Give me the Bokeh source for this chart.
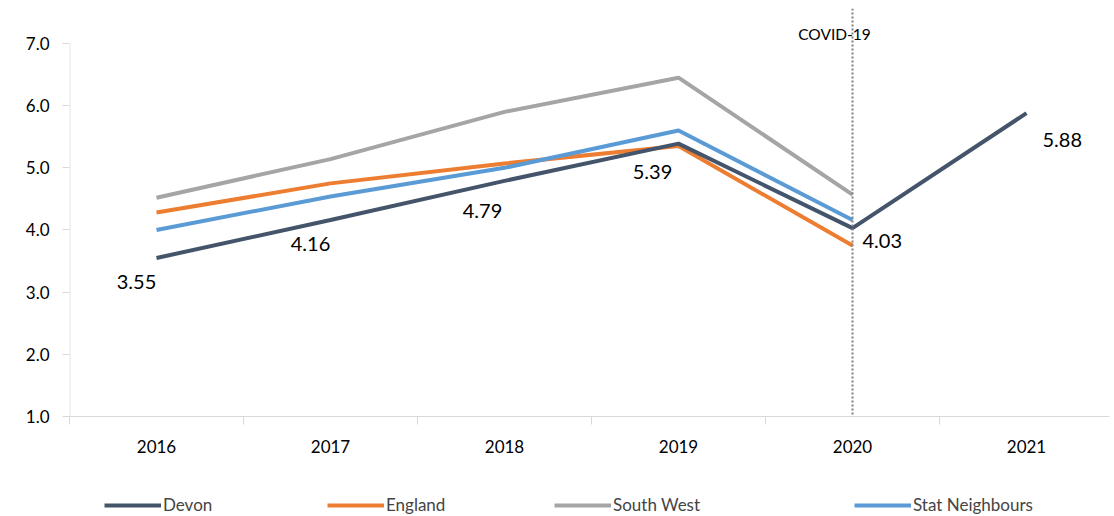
from bokeh.plotting import figure
from bokeh.layouts import column
from bokeh.models import (Range1d, FixedTicker, Legend, LegendItem, ColumnDataSource, Span,
                          PrintfTickFormatter)
from bokeh.core.properties import value
from bokeh.embed import file_html
from bokeh.resources import INLINE

years = ["2016", "2017", "2018", "2019", "2020", "2021"]
devon = [3.55, 4.16, 4.79, 5.39, 4.03, 5.88]
england = [4.28, 4.75, 5.07, 5.35, 3.75]
south_west = [4.52, 5.14, 5.90, 6.45, 4.57]
stat_neighbours = [4.00, 4.54, 5.00, 5.60, 4.16]
devon_labels = ["3.55", "4.16", "4.79", "5.39", "4.03", "5.88"]
series_names = ["Devon", "England", "South West", "Stat Neighbours"]
y_ticks = [1, 2, 3, 4, 5, 6, 7]

FONT = "Lato"
xpos = [i + 0.5 for i in range(len(years))]

FW = 1040
p = figure(width=1110, height=490, output_backend="svg", toolbar_location=None,
           x_range=Range1d(0, FW / 174.0), y_range=Range1d(1, 7.563),
           min_border_left=69, min_border_right=1, min_border_top=8, min_border_bottom=74)
p.outline_line_color = None
p.grid.visible = False
p.background_fill_color = "white"

# x axis
xa = p.xaxis[0]
xa.ticker = FixedTicker(ticks=xpos, minor_ticks=list(range(0, 7)))
xa.major_label_overrides = {x: y for x, y in zip(xpos, years)}
xa.major_tick_line_color = None
xa.minor_tick_line_color = "#d9d9d9"
xa.minor_tick_out = 8
xa.minor_tick_in = 0
xa.axis_line_color = "#d9d9d9"
xa.major_label_standoff = 15
xa.major_label_text_font = FONT
xa.major_label_text_font_size = "17px"
xa.major_label_text_color = "#000000"

# y axis
ya = p.yaxis[0]
ya.ticker = FixedTicker(ticks=y_ticks)
ya.formatter = PrintfTickFormatter(format="%.1f")
ya.axis_line_color = None
ya.major_tick_line_color = "#d9d9d9"
ya.major_tick_out = 7
ya.major_tick_in = 0
ya.minor_tick_line_color = None
ya.major_label_standoff = 13
ya.major_label_text_font = FONT
ya.major_label_text_font_size = "17px"
ya.major_label_text_color = "#000000"

# y axis line only from 1 to 7
p.segment(x0=[0.002], y0=[min(y_ticks)], x1=[0.002], y1=[max(y_ticks)],
          line_color="#d9d9d9", line_width=1)

# COVID line
covid_x = xpos[years.index("2020")]
p.add_layout(Span(location=covid_x, dimension="height", line_color="#7f7f7f",
                  line_dash="2 2", line_width=2))
p.text(x=[covid_x], y=[7.563], text=["COVID-19"], text_font=value(FONT),
       text_font_size="15.5px", text_align="center", text_baseline="top",
       x_offset=-18, y_offset=16, text_color="#000000")

cols = {"Devon": "#44546a", "England": "#ed7d31", "South West": "#a5a5a5",
        "Stat Neighbours": "#5b9bd5"}
lw = 4
p.line(xpos[:5], south_west, line_color=cols["South West"], line_width=lw)
p.line(xpos[:5], england, line_color=cols["England"], line_width=lw)
p.line(xpos[:5], stat_neighbours, line_color=cols["Stat Neighbours"], line_width=lw)
p.line(xpos, devon, line_color=cols["Devon"], line_width=lw)

# data labels for Devon
x_off = [-20, -20, -22, -26, 10, 16]
y_off = [24, 24, 30, 28, 13, 27]
align = ["center", "center", "center", "center", "left", "left"]
src = ColumnDataSource(dict(x=xpos, y=devon, t=devon_labels, xo=x_off, yo=y_off, al=align))
p.text(x="x", y="y", text="t", x_offset="xo", y_offset="yo", text_align="al",
       text_baseline="middle", text_font=value(FONT), text_font_size="20px",
       text_color="#000000", source=src)

# legend strip below the chart
p2 = figure(width=1110, height=26, output_backend="svg", toolbar_location=None,
            x_range=Range1d(0, 1), y_range=Range1d(0, 1),
            x_axis_type=None, y_axis_type=None,
            min_border_left=0, min_border_right=0, min_border_top=0, min_border_bottom=0)
p2.outline_line_color = None
p2.grid.visible = False
legend_x = [35, 258, 485, 785]
for name, lx in zip(series_names, legend_x):
    r = p2.line([5, 6], [5, 6], line_color=cols[name], line_width=lw)
    lg = Legend(items=[LegendItem(label=name, renderers=[r])],
                orientation="horizontal", location=(lx, 1),
                label_text_font=FONT, label_text_font_size="17px",
                glyph_width=57, glyph_height=8, label_standoff=2,
                border_line_color=None, background_fill_alpha=0,
                padding=0, margin=0, label_height=18)
    p2.add_layout(lg, "center")

open("out.html", "w").write(file_html(column(p, p2, spacing=0), INLINE))
